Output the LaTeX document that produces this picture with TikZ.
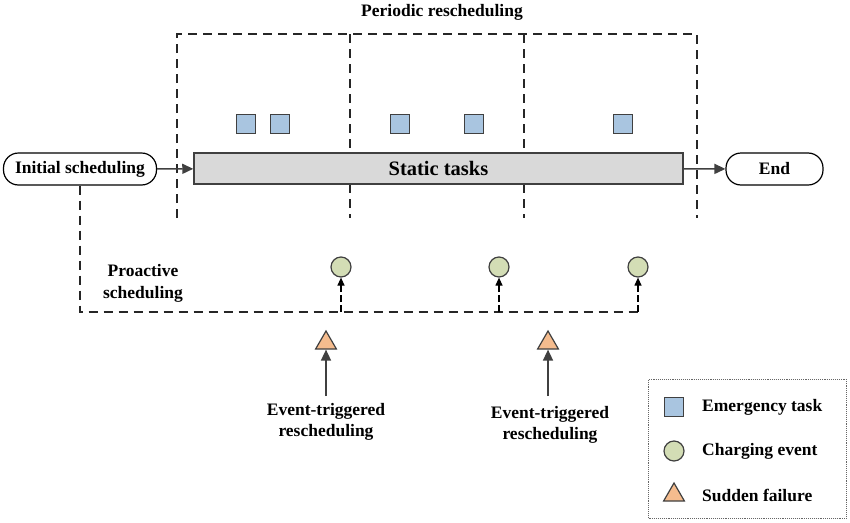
\documentclass[tikz,border=0pt]{standalone}
\usepackage{fontspec}
\setmainfont{Liberation Serif}
\usetikzlibrary{arrows.meta,shapes.geometric}
\definecolor{edgegray}{HTML}{404040}
\definecolor{taskblue}{HTML}{A9C5E0}
\definecolor{chargegreen}{HTML}{D3DDB5}
\definecolor{failorange}{HTML}{F5BC8E}
\definecolor{bargray}{HTML}{D9D9D9}
\tikzset{
  lbl/.style={font=\bfseries\fontsize{17.5}{19}\selectfont, align=center, inner sep=0pt},
  termbox/.style={draw=black, line width=1.2pt, rounded corners=15pt, minimum height=32pt, inner sep=0pt, font=\bfseries\fontsize{17.5}{19}\selectfont},
  taskbox/.style={draw=edgegray, fill=taskblue, line width=1.5pt, minimum size=19pt, inner sep=0pt},
  chargedot/.style={circle, draw=edgegray, fill=chargegreen, line width=1.2pt, minimum size=20pt, inner sep=0pt},
  failtri/.style={isosceles triangle, isosceles triangle apex angle=60, shape border rotate=90, draw=edgegray, fill=failorange, line width=1.2pt, minimum height=18pt, inner sep=0pt},
  flow/.style={draw=edgegray, line width=1.6pt, -{Triangle[length=11pt,width=10pt]}},
  dashline/.style={draw=black!85, line width=1.4pt, dash pattern=on 9pt off 6pt},
  uparrow/.style={draw=black, line width=1.2pt, dash pattern=on 7pt off 3pt, -{Triangle[length=8pt,width=7pt]}},
}
\begin{document}
\begin{tikzpicture}[x=1pt,y=-1pt]
\useasboundingbox (0,0) rectangle (850,522);

% periodic boxes
\node[lbl] (periodic) at (442,12) {Periodic rescheduling};
\coordinate (p0t) at (177,34); \coordinate (p0b) at (177,218);
\coordinate (p1t) at (350,34); \coordinate (p1b) at (350,218);
\coordinate (p2t) at (524,34); \coordinate (p2b) at (524,218);
\coordinate (p3t) at (697,34); \coordinate (p3b) at (697,218);
\draw[dashline] (p0b) -- (p0t) -- (p3t) -- (p3b);
\draw[dashline] (p1t) -- (p1b);
\draw[dashline] (p2t) -- (p2b);

% emergency tasks
\node[taskbox] (t1) at (246,124) {};
\node[taskbox] (t2) at (280,124) {};
\node[taskbox] (t3) at (400,124) {};
\node[taskbox] (t4) at (474,124) {};
\node[taskbox] (t5) at (623,124) {};

% main flow
\node[termbox, minimum width=153pt] (init) at (80,169) {Initial scheduling};
\node[draw=edgegray, fill=bargray, line width=1.5pt, minimum width=489pt, minimum height=31pt, inner sep=0pt, font=\bfseries\fontsize{20.5}{22}\selectfont] (static) at (438.5,168.5) {Static tasks};
\node[termbox, minimum width=97pt] (end) at (774.5,169) {End};
\draw[flow] (init) -- (static);
\draw[flow] (static) -- (end);

% proactive
\node[lbl, align=center] (proactive) at (143,283.5) {Proactive\\[3pt]scheduling};
\node[chargedot] (c1) at (341,267) {};
\node[chargedot] (c2) at (499,267) {};
\node[chargedot] (c3) at (638,267) {};
\coordinate (corner) at (80,312);
\coordinate (b1) at (341,312);
\coordinate (b2) at (499,312);
\coordinate (b3) at (638,312);
\draw[dashline] (init.south) -- (corner) -- (b3);
\draw[uparrow] (b1) -- (c1);
\draw[uparrow] (b2) -- (c2);
\draw[uparrow] (b3) -- (c3);

% event-triggered
\node[failtri] (f1) at (326,343) {};
\node[failtri] (f2) at (548,343) {};
\node[lbl] (e1) at (326,421.5) {Event-triggered\\[2pt]rescheduling};
\node[lbl] (e2) at (550,424.5) {Event-triggered\\[2pt]rescheduling};
\coordinate (e1t) at (326,396);
\coordinate (e2t) at (548,396);
\draw[flow] (e1t) -- (f1.south);
\draw[flow] (e2t) -- (f2.south);

% legend
\node[draw=black!60, densely dotted, line width=0.9pt, minimum width=198pt, minimum height=139pt, inner sep=0pt] (legend) at (747.5,448.5) {};
\node[taskbox] (ls) at (674,407) {};
\node[chargedot] (lc) at (674,451) {};
\node[failtri] (lt) at (674,495) {};
\node[lbl, anchor=west] (lst) at (702,407) {Emergency task};
\node[lbl, anchor=west] (lct) at (702,451) {Charging event};
\node[lbl, anchor=west] (ltt) at (702,495) {Sudden failure};
\end{tikzpicture}
\end{document}
